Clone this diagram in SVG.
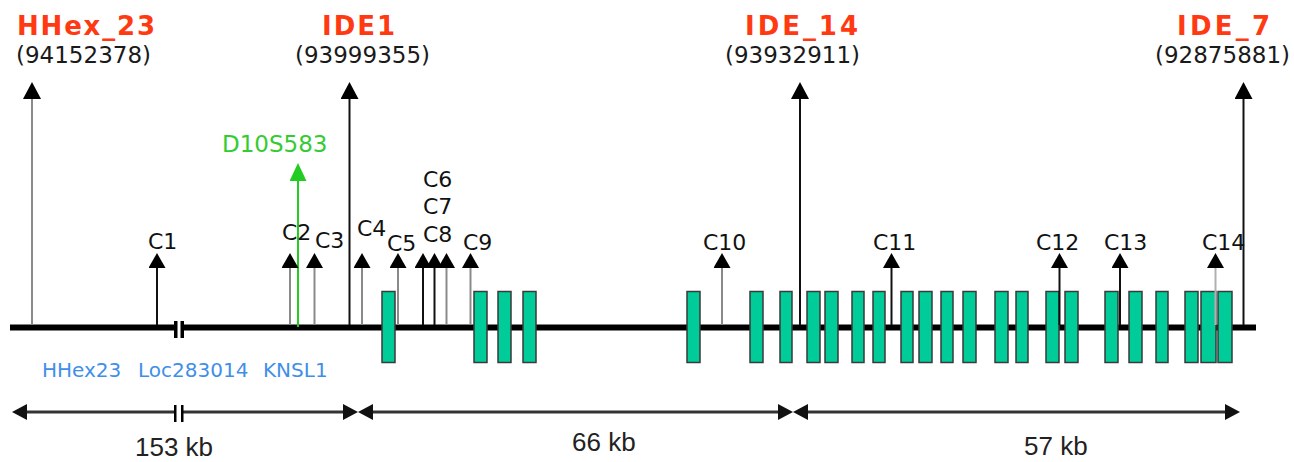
<svg xmlns="http://www.w3.org/2000/svg" width="1294" height="462" viewBox="0 0 1294 462">
  <defs>
    <style>
      .bg { fill: #ffffff; }
      .title { font-family: "DejaVu Sans", Verdana, sans-serif; font-weight: bold; font-size: 26px; fill: #ff3a12; }
      .pos { font-family: "DejaVu Sans", Verdana, sans-serif; font-size: 23px; fill: #1a1a1a; }
      .clab { font-family: "DejaVu Sans", Verdana, sans-serif; font-size: 22px; fill: #111111; }
      .gene { font-family: "DejaVu Sans", Verdana, sans-serif; font-size: 20px; fill: #3f8fe8; }
      .snp { font-family: "DejaVu Sans", Verdana, sans-serif; font-size: 23px; fill: #33cc33; }
      .kb { font-family: "Liberation Sans", Arial, sans-serif; font-size: 26px; fill: #222222; }
      .chrom { stroke: #000000; stroke-width: 6; fill: none; }
      .brk { fill: #000000; }
      .exon { fill: #00cc99; stroke: #3a3a3a; stroke-width: 1.5; }
      .tick { stroke-width: 2; fill: none; }
      .k { stroke: #111111; }
      .g { stroke: #8a8a8a; }
      .lg { stroke: #b0b0b0; }
      .green { stroke: #22cc22; }
      .ruler { stroke: #333333; stroke-width: 3; fill: none; }
    </style>
    <!-- arrowheads: base sits on the line end, tip points outward -->
    <marker id="head" markerUnits="userSpaceOnUse" viewBox="0 0 15 17" markerWidth="15" markerHeight="17" refX="0" refY="8.5" orient="auto">
      <path d="M0,0 L15,8.5 L0,17 z" fill="#000000"/>
    </marker>
    <marker id="head-lg" markerUnits="userSpaceOnUse" viewBox="0 0 17 18" markerWidth="17" markerHeight="18" refX="0" refY="9" orient="auto">
      <path d="M0,0 L17,9 L0,18 z" fill="#000000"/>
    </marker>
    <marker id="head-green" markerUnits="userSpaceOnUse" viewBox="0 0 18 17" markerWidth="18" markerHeight="17" refX="0" refY="8.5" orient="auto">
      <path d="M0,0 L18,8.5 L0,17 z" fill="#22cc22"/>
    </marker>
    <marker id="ruler-head" markerUnits="userSpaceOnUse" viewBox="0 0 15 16" markerWidth="15" markerHeight="16" refX="0" refY="8" orient="auto-start-reverse">
      <path d="M0,0 L15,8 L0,16 z" fill="#111111"/>
    </marker>
  </defs>

  <rect class="bg" x="0" y="0" width="1294" height="462"/>

  <!-- chromosome backbone with a break -->
  <g id="chromosome">
    <line class="chrom" x1="10" y1="327.5" x2="177" y2="327.5"/>
    <line class="chrom" x1="181" y1="327.5" x2="1256" y2="327.5"/>
    <rect class="brk" x="174" y="321" width="3.5" height="17"/>
    <rect class="brk" x="180.5" y="321" width="3.5" height="17"/>
  </g>

  <!-- exons -->
  <g id="exons">
    <rect id="exon-1" class="exon" x="382" y="291.5" width="13" height="71"/>
    <rect id="exon-2" class="exon" x="474" y="291.5" width="13" height="71"/>
    <rect id="exon-3" class="exon" x="498" y="291.5" width="13" height="71"/>
    <rect id="exon-4" class="exon" x="523" y="291.5" width="13" height="71"/>
    <rect id="exon-5" class="exon" x="687" y="291.5" width="13" height="71"/>
    <rect id="exon-6" class="exon" x="750" y="291.5" width="13" height="71"/>
    <rect id="exon-7" class="exon" x="780" y="291.5" width="12" height="71"/>
    <rect id="exon-8" class="exon" x="807" y="291.5" width="13" height="71"/>
    <rect id="exon-9" class="exon" x="825" y="291.5" width="13" height="71"/>
    <rect id="exon-10" class="exon" x="852" y="291.5" width="12" height="71"/>
    <rect id="exon-11" class="exon" x="873" y="291.5" width="12" height="71"/>
    <rect id="exon-12" class="exon" x="901" y="291.5" width="12" height="71"/>
    <rect id="exon-13" class="exon" x="919" y="291.5" width="13" height="71"/>
    <rect id="exon-14" class="exon" x="941" y="291.5" width="12" height="71"/>
    <rect id="exon-15" class="exon" x="963" y="291.5" width="13" height="71"/>
    <rect id="exon-16" class="exon" x="995" y="291.5" width="13" height="71"/>
    <rect id="exon-17" class="exon" x="1016" y="291.5" width="12" height="71"/>
    <rect id="exon-18" class="exon" x="1046" y="291.5" width="13" height="71"/>
    <rect id="exon-19" class="exon" x="1065" y="291.5" width="13" height="71"/>
    <rect id="exon-20" class="exon" x="1105" y="291.5" width="13" height="71"/>
    <rect id="exon-21" class="exon" x="1129" y="291.5" width="13" height="71"/>
    <rect id="exon-22" class="exon" x="1156" y="291.5" width="12" height="71"/>
    <rect id="exon-23" class="exon" x="1185" y="291.5" width="13" height="71"/>
    <rect id="exon-24" class="exon" x="1201" y="291.5" width="15" height="71"/>
    <rect id="exon-25" class="exon" x="1218" y="291.5" width="14" height="71"/>
  </g>

  <!-- marker stalks -->
  <g id="connectors">
    <line class="tick g" x1="32" y1="325" x2="32" y2="99" marker-end="url(#head-lg)"/>
    <line class="tick k" x1="349.5" y1="325" x2="349.5" y2="99" marker-end="url(#head-lg)"/>
    <line class="tick k" x1="800" y1="325" x2="800" y2="99" marker-end="url(#head-lg)"/>
    <line class="tick k" x1="1243.5" y1="325" x2="1243.5" y2="99" marker-end="url(#head-lg)"/>
    <line class="tick green" x1="298" y1="327" x2="298" y2="181" marker-end="url(#head-green)"/>
    <line class="tick k" x1="157" y1="325" x2="157" y2="268" marker-end="url(#head)"/>
    <line class="tick g" x1="290" y1="325" x2="290" y2="268" marker-end="url(#head)"/>
    <line class="tick g" x1="314.5" y1="325" x2="314.5" y2="268" marker-end="url(#head)"/>
    <line class="tick g" x1="362" y1="325" x2="362" y2="268" marker-end="url(#head)"/>
    <line class="tick g" x1="398" y1="325" x2="398" y2="268" marker-end="url(#head)"/>
    <line class="tick k" x1="423" y1="325" x2="423" y2="268" marker-end="url(#head)"/>
    <line class="tick k" x1="434.5" y1="325" x2="434.5" y2="268" marker-end="url(#head)"/>
    <line class="tick g" x1="446.5" y1="325" x2="446.5" y2="268" marker-end="url(#head)"/>
    <line class="tick g" x1="470.5" y1="325" x2="470.5" y2="268" marker-end="url(#head)"/>
    <line class="tick g" x1="722" y1="325" x2="722" y2="268" marker-end="url(#head)"/>
    <line class="tick k" x1="891.5" y1="325" x2="891.5" y2="268" marker-end="url(#head)"/>
    <line class="tick k" x1="1059.5" y1="325" x2="1059.5" y2="268" marker-end="url(#head)"/>
    <line class="tick k" x1="1120" y1="325" x2="1120" y2="268" marker-end="url(#head)"/>
    <line class="tick lg" x1="1215.5" y1="325" x2="1215.5" y2="268" marker-end="url(#head)"/>
  </g>

  <!-- anchor markers with genomic positions -->
  <g id="marker-HHex_23">
    <text class="title" x="17" y="35" textLength="138">HHex_23</text>
    <text class="pos" x="16" y="63">(94152378)</text>
  </g>
  <g id="marker-IDE1">
    <text class="title" x="322" y="35" textLength="73">IDE1</text>
    <text class="pos" x="295" y="63">(93999355)</text>
  </g>
  <g id="marker-IDE_14">
    <text class="title" x="745" y="35" textLength="113">IDE_14</text>
    <text class="pos" x="725" y="63">(93932911)</text>
  </g>
  <g id="marker-IDE_7">
    <text class="title" x="1177" y="35" textLength="93">IDE_7</text>
    <text class="pos" x="1155" y="63">(92875881)</text>
  </g>
  <g id="marker-D10S583">
    <text class="snp" x="222" y="152">D10S583</text>
  </g>

  <!-- SNP labels -->
  <g id="snp-labels">
    <text id="C1" class="clab" x="148" y="249">C1</text>
    <text id="C2" class="clab" x="282" y="240">C2</text>
    <text id="C3" class="clab" x="315" y="248">C3</text>
    <text id="C4" class="clab" x="357" y="236">C4</text>
    <text id="C5" class="clab" x="387" y="251">C5</text>
    <text id="C6" class="clab" x="423" y="187">C6</text>
    <text id="C7" class="clab" x="423" y="214">C7</text>
    <text id="C8" class="clab" x="423" y="242">C8</text>
    <text id="C9" class="clab" x="463" y="250">C9</text>
    <text id="C10" class="clab" x="703" y="250">C10</text>
    <text id="C11" class="clab" x="873" y="250">C11</text>
    <text id="C12" class="clab" x="1036" y="250">C12</text>
    <text id="C13" class="clab" x="1104" y="250">C13</text>
    <text id="C14" class="clab" x="1202" y="250">C14</text>
  </g>

  <!-- genes -->
  <g id="genes">
    <text class="gene" x="42" y="377">HHex23</text>
    <text class="gene" x="138" y="377">Loc283014</text>
    <text class="gene" x="263" y="377">KNSL1</text>
  </g>

  <!-- distance ruler -->
  <g id="ruler">
    <line class="ruler" x1="27" y1="412" x2="176" y2="412" marker-start="url(#ruler-head)"/>
    <line class="ruler" x1="183" y1="412" x2="343" y2="412" marker-end="url(#ruler-head)"/>
    <line class="ruler" x1="373" y1="412" x2="778" y2="412" marker-start="url(#ruler-head)" marker-end="url(#ruler-head)"/>
    <line class="ruler" x1="808" y1="412" x2="1225" y2="412" marker-start="url(#ruler-head)" marker-end="url(#ruler-head)"/>
    <rect class="brk" x="174" y="405" width="2.5" height="17"/>
    <rect class="brk" x="181" y="405" width="2.5" height="17"/>
    <text class="kb" x="135" y="456">153 kb</text>
    <text class="kb" x="572" y="451">66 kb</text>
    <text class="kb" x="1024" y="455">57 kb</text>
  </g>
</svg>
